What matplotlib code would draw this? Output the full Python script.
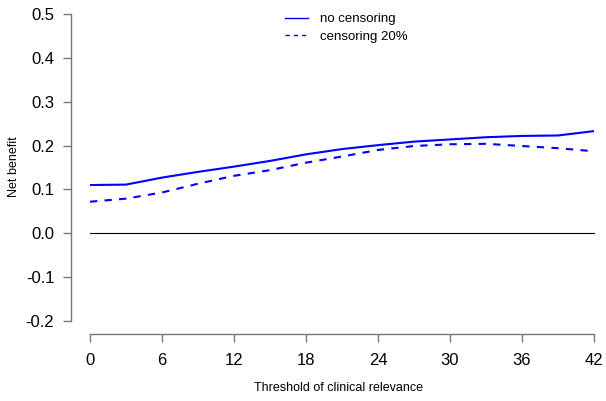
import numpy as np
import matplotlib
matplotlib.use('Agg')
from matplotlib import pyplot as plt
from matplotlib.lines import Line2D

plt.rcParams['font.family'] = ['Liberation Sans', 'DejaVu Sans']

# threshold values and net benefit curves
threshold = [0, 3, 6, 9, 12, 15, 18, 21, 24, 27, 30, 33, 36, 39, 42]
nb_no_cens = [0.110, 0.111, 0.127, 0.140, 0.152, 0.165, 0.180, 0.192,
              0.201, 0.209, 0.214, 0.219, 0.222, 0.223, 0.233]
nb_cens20 = [0.072, 0.079, 0.093, 0.113, 0.131, 0.144, 0.161, 0.175,
             0.190, 0.199, 0.203, 0.204, 0.199, 0.194, 0.187]
xticks = [0, 6, 12, 18, 24, 30, 36, 42]
yticks = [-0.2, -0.1, 0.0, 0.1, 0.2, 0.3, 0.4, 0.5]
labels = ['no censoring', 'censoring 20%']

fig = plt.figure(figsize=(6.06, 4.01), dpi=100)
ax = fig.add_axes([71 / 606, 67 / 401, 535 / 606, 334 / 401])

ax.plot(threshold, nb_no_cens, color='#0000FF', lw=1.5, solid_capstyle='butt')
ax.plot(threshold, nb_cens20, color='#0000FF', lw=1.5, linestyle=(0, (3.5, 3.5)))
ax.plot([threshold[0], threshold[-1]], [0, 0], color='black', lw=0.8)

ax.set_xlim(-19 / 12, 42 + 12 / 12)
ax.set_ylim(-0.2 - 13 / 438.6, 0.5 + 14 / 438.6)

for s in ['top', 'right']:
    ax.spines[s].set_visible(False)
ax.spines['left'].set_bounds(-0.2, 0.5)
ax.spines['bottom'].set_bounds(0, 42)
for s in ['left', 'bottom']:
    ax.spines[s].set_color('#777777')
    ax.spines[s].set_linewidth(1.0)

ax.set_xticks(xticks)
ax.set_xticklabels([str(v) for v in xticks])
ax.set_yticks(yticks)
ax.set_yticklabels(['%.1f' % v for v in yticks])
ax.tick_params(axis='both', color='#777777', length=6, width=1.0,
               labelsize=12, labelcolor='black')
ax.tick_params(axis='x', pad=8)
ax.tick_params(axis='y', pad=6)

ax.set_xlabel('Threshold of clinical relevance', fontsize=9, labelpad=10)
ax.set_ylabel('Net benefit', fontsize=9, labelpad=4)

handles = [Line2D([], [], color='#0000FF', lw=1.0),
           Line2D([], [], color='#0000FF', lw=1.0, linestyle=(0, (3, 3)))]
ax.legend(handles, labels, loc='upper left', bbox_to_anchor=(203 / 535, 0.993),
          frameon=False, fontsize=9.5, handlelength=1.8, handletextpad=0.85,
          labelspacing=0.4, borderaxespad=0.4)

fig.savefig('out.png', dpi=100)
